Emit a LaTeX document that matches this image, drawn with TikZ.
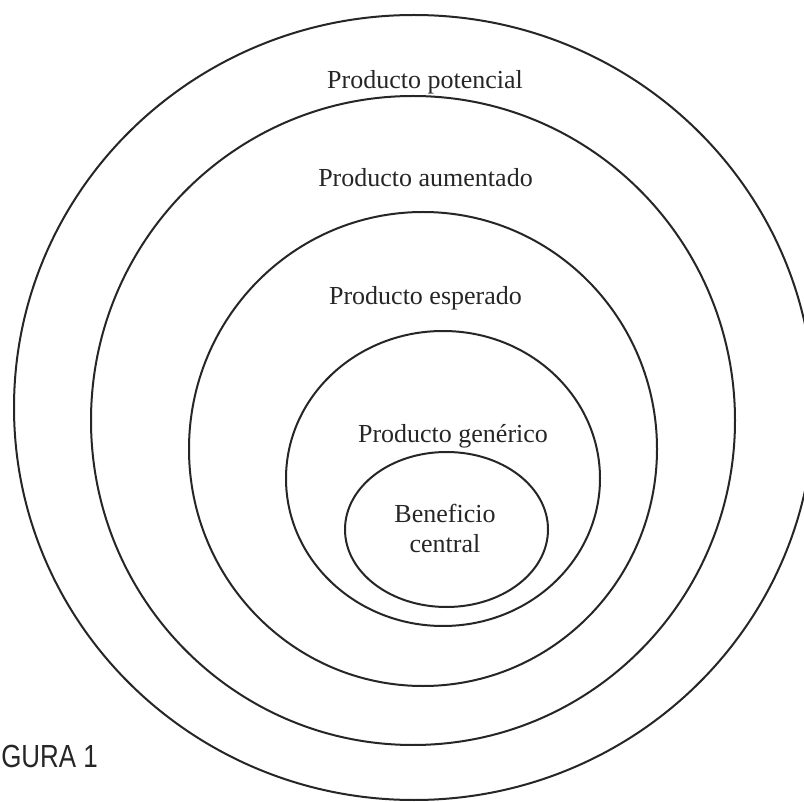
\documentclass[tikz,border=0pt]{standalone}
\usepackage{fontspec}
\setmainfont{Liberation Serif}
\newfontfamily\figfont{Liberation Sans}
\usetikzlibrary{shapes.geometric}
\begin{document}
\begin{tikzpicture}[x=1pt,y=-1pt,
  ring/.style={ellipse, draw=black!85, line width=2pt, inner sep=0pt},
  lbl/.style={anchor=base, inner sep=0pt, font=\fontsize{26}{30}\selectfont, text=black!85},
  fig/.style={anchor=base east, inner sep=0pt, font=\figfont\fontsize{32}{36}\selectfont, xscale=0.81, transform shape, text=black!85}]
\useasboundingbox (0,0) rectangle (804,802);
\clip (0,0) rectangle (804,802);
\fill[white] (0,0) rectangle (804,802);
% nested rings
\node[ring, minimum width=800pt, minimum height=785pt] (potencial) at (414,407.5) {};
\node[ring, minimum width=644pt, minimum height=649pt] (aumentado) at (413,420.5) {};
\node[ring, minimum width=468pt, minimum height=474pt] (esperado) at (423,449) {};
\node[ring, minimum width=314pt, minimum height=295pt] (generico) at (443,478.5) {};
\node[ring, minimum width=203pt, minimum height=155pt] (central) at (446.5,529.5) {};
% labels
\node[lbl] (tpot) at (425,89) {Producto potencial};
\node[lbl] (taum) at (425.5,187) {Producto aumentado};
\node[lbl] (tesp) at (425.5,305) {Producto esperado};
\node[lbl] (tgen) at (453,443) {Producto genérico};
\node[lbl] (tben) at (445,522) {Beneficio};
\node[lbl] (tcen) at (445,552) {central};
\node[fig] (tfig) at (98,767) {GURA 1};
\end{tikzpicture}
\end{document}
